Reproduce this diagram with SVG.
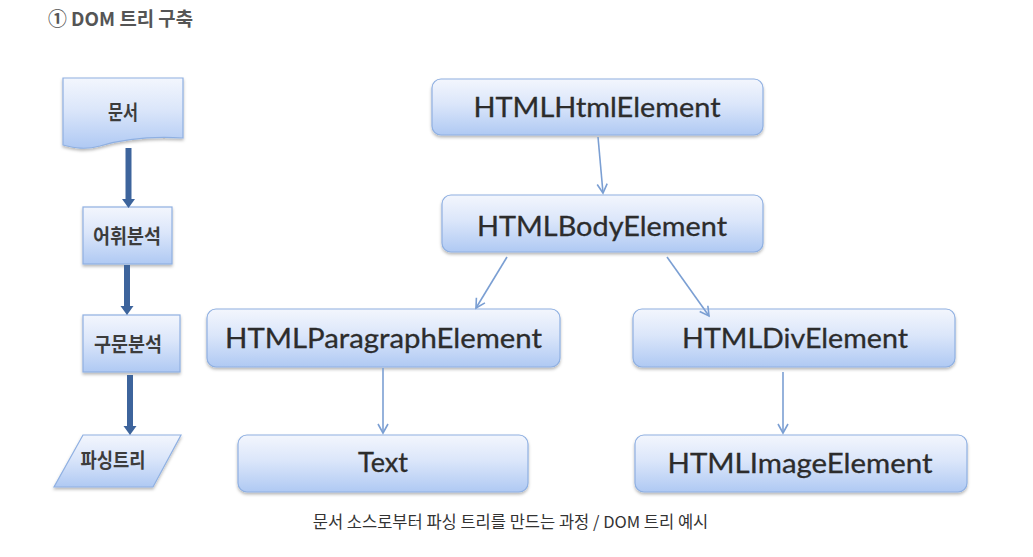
<svg xmlns="http://www.w3.org/2000/svg" width="1033" height="557" viewBox="0 0 1033 557">
<defs>
<linearGradient id="g" x1="0" y1="0" x2="0" y2="1">
<stop offset="0" stop-color="#f3f6fd"/>
<stop offset="0.45" stop-color="#dbe6fa"/>
<stop offset="1" stop-color="#afc9f3"/>
</linearGradient>
<filter id="sh" x="-10%" y="-20%" width="120%" height="150%">
<feDropShadow dx="0" dy="2" stdDeviation="1.5" flood-color="#000" flood-opacity="0.28"/>
</filter>
<marker id="va" markerUnits="userSpaceOnUse" markerWidth="14" markerHeight="14" refX="11" refY="6" orient="auto">
<path d="M2,1 L11,6 L2,11" fill="none" stroke="#7b9fd3" stroke-width="1.6"/>
</marker>
</defs>
<style>
.box{fill:url(#g);stroke:#8fb0e2;stroke-width:1.2;filter:url(#sh)}
.en{font-family:Lato,"Liberation Sans",sans-serif;font-size:27px;fill:#2c2c2c;text-anchor:middle;stroke:#2c2c2c;stroke-width:0.3}
.ko{font-family:"Noto Sans CJK KR",sans-serif;font-size:20px;font-weight:bold;fill:#3c3c3c;text-anchor:middle}
.thin{fill:none;stroke:#7b9fd3;stroke-width:1.6;marker-end:url(#va)}
.thick{fill:none;stroke:#3d649c;stroke-width:6}
.head{fill:#3d649c}
</style>
<rect width="1033" height="557" fill="#fff"/>
<text x="48" y="26" font-family="'Noto Sans CJK KR',sans-serif" font-size="19" font-weight="bold" fill="#555" textLength="145" lengthAdjust="spacingAndGlyphs">① DOM 트리 구축</text>

<g id="n-doc">
<path class="box" d="M63,78 L183,78 L183,138 C150,136 120,140 100,146 C85,150 75,148 63,145 Z"/>
<text class="ko" x="123" y="120" textLength="30" lengthAdjust="spacingAndGlyphs">문서</text>
</g>
<g id="n-lex">
<rect class="box" x="83" y="207" width="89" height="57"/>
<text class="ko" x="127" y="244" textLength="68" lengthAdjust="spacingAndGlyphs">어휘분석</text>
</g>
<g id="n-syn">
<rect class="box" x="83" y="315" width="97" height="57"/>
<text class="ko" x="128" y="352" textLength="68" lengthAdjust="spacingAndGlyphs">구문분석</text>
</g>
<g id="n-tree">
<polygon class="box" points="83,435 181,435 153,487 54,487"/>
<text class="ko" x="113" y="468" textLength="65" lengthAdjust="spacingAndGlyphs">파싱트리</text>
</g>

<g id="n-html">
<rect class="box" x="432" y="79" width="331" height="56" rx="9"/>
<text class="en" x="597" y="117" textLength="247" lengthAdjust="spacingAndGlyphs">HTMLHtmlElement</text>
</g>
<g id="n-body">
<rect class="box" x="442" y="195" width="321" height="57" rx="9"/>
<text class="en" x="602" y="236" textLength="250" lengthAdjust="spacingAndGlyphs">HTMLBodyElement</text>
</g>
<g id="n-para">
<rect class="box" x="207" y="309" width="353" height="58" rx="9"/>
<text class="en" x="383.5" y="348" textLength="317" lengthAdjust="spacingAndGlyphs">HTMLParagraphElement</text>
</g>
<g id="n-div">
<rect class="box" x="633" y="309" width="322" height="58" rx="9"/>
<text class="en" x="795" y="348" textLength="226" lengthAdjust="spacingAndGlyphs">HTMLDivElement</text>
</g>
<g id="n-text">
<rect class="box" x="238" y="435" width="290" height="57" rx="9"/>
<text class="en" x="383" y="472" textLength="50" lengthAdjust="spacingAndGlyphs">Text</text>
</g>
<g id="n-img">
<rect class="box" x="635" y="435" width="332" height="57" rx="9"/>
<text class="en" x="800" y="473" textLength="265" lengthAdjust="spacingAndGlyphs">HTMLImageElement</text>
</g>

<g id="connectors">
<line class="thick" x1="128.5" y1="148" x2="128.5" y2="201"/>
<polygon class="head" points="122,199 135,199 128.5,208"/>
<line class="thick" x1="127" y1="265" x2="127" y2="308"/>
<polygon class="head" points="120.5,306 133.5,306 127,315"/>
<line class="thick" x1="130" y1="375" x2="130" y2="428"/>
<polygon class="head" points="123.5,426 136.5,426 130,435"/>
<line class="thin" x1="598" y1="137" x2="603" y2="193"/>
<line class="thin" x1="507" y1="257" x2="476" y2="308"/>
<line class="thin" x1="667" y1="257" x2="709" y2="316"/>
<line class="thin" x1="383" y1="368" x2="383" y2="433"/>
<line class="thin" x1="783" y1="372" x2="783" y2="433"/>
</g>

<text x="510.5" y="528" font-family="'Noto Sans CJK KR',sans-serif" font-size="16.5" fill="#333" text-anchor="middle">문서 소스로부터 파싱 트리를 만드는 과정 / DOM 트리 예시</text>
</svg>
